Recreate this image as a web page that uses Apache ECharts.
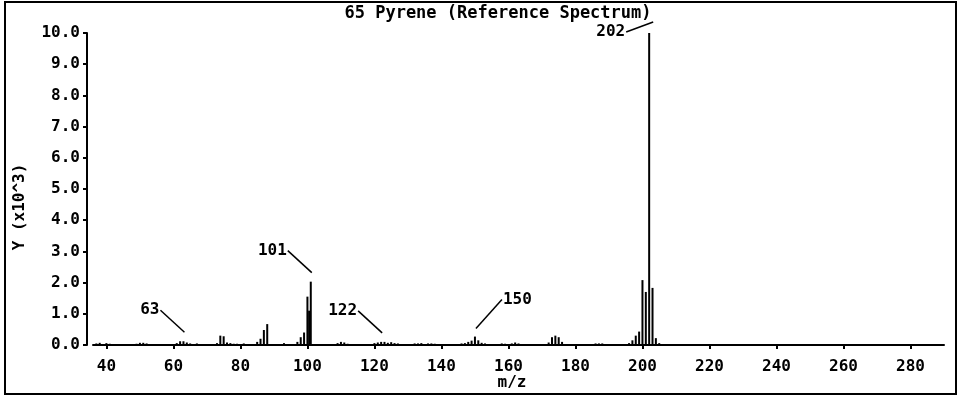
<!DOCTYPE html>
<html>
<head>
<meta charset="utf-8">
<script src="https://cdn.jsdelivr.net/npm/echarts@6/dist/echarts.min.js"></script>
<style>
html,body{margin:0;padding:0;background:#fff;}
#chart{width:961px;height:397px;}
</style>
</head>
<body>
<div id="chart"></div>
<script>
// ---- data ----
const titleText = '65 Pyrene (Reference Spectrum)';
const xAxisName = 'm/z';
const yAxisName = 'Y (x10^3)';
const mzValues = [37,38,40,41, 49,50,51,52, 61,62,63,64,65,67, 73,74,75,76,77,78,79,81, 85,86,87,88, 93, 97,98,99,100,100.5,101,
  109,110,111,112, 120,121,122,123,124,125,126,127, 132,133,134,136,137,138,
  146,147,148,149,150,151,152,153, 158,159,161,162,163, 172,173,174,175,176, 186,187,188,
  196,197,198,199,200,201,202,203,204,205];
const intensities = [0.05,0.07,0.06,0.04, 0.04,0.07,0.07,0.05, 0.06,0.12,0.12,0.08,0.05,0.05, 0.06,0.3,0.28,0.08,0.06,0.04,0.04,0.05, 0.1,0.2,0.48,0.67, 0.06, 0.1,0.25,0.4,1.55,1.1,2.03,
  0.06,0.1,0.08,0.04, 0.06,0.08,0.1,0.1,0.07,0.09,0.06,0.05, 0.05,0.05,0.06,0.05,0.05,0.04,
  0.05,0.06,0.1,0.14,0.27,0.15,0.07,0.05, 0.05,0.04,0.05,0.08,0.05, 0.08,0.25,0.3,0.25,0.1, 0.05,0.05,0.05,
  0.06,0.15,0.3,0.43,2.08,1.7,10.0,1.83,0.22,0.06];
const annotatedPeaks = [63, 101, 122, 150, 202];
const xTickValues = [40,60,80,100,120,140,160,180,200,220,240,260,280];
const yTickValues = [0,1,2,3,4,5,6,7,8,9,10];

// ---- chart ----
const FONT = '"DejaVu Sans Mono", "Liberation Mono", monospace';
const FONT_CSS = 'bold 16px ' + FONT;
const barData = mzValues.map((m, i) => [m, intensities[i]]);
const annotData = annotatedPeaks.map(m => [m, intensities[mzValues.indexOf(m)]]);

const chart = echarts.init(document.getElementById('chart'), null, {renderer: 'canvas'});
chart.setOption({
  animation: false,
  backgroundColor: '#fff',
  grid: {left: 93, right: 17, top: 33, bottom: 52, containLabel: false},
  xAxis: {
    type: 'value', min: 36, max: 290,
    offset: 6,
    axisLine: {show: true, lineStyle: {color: '#000', width: 2}},
    axisTick: {show: true, inside: false, length: 4, lineStyle: {color: '#000', width: 2}, customValues: xTickValues},
    axisLabel: {show: true, margin: 8, color: '#000', fontFamily: FONT, fontWeight: 'bold', fontSize: 16, customValues: xTickValues},
    splitLine: {show: false}
  },
  yAxis: {
    type: 'value', min: 0, max: 10,
    offset: 6,
    axisLine: {show: true, lineStyle: {color: '#000', width: 2}},
    axisTick: {show: true, inside: false, length: 4, lineStyle: {color: '#000', width: 2}, customValues: yTickValues},
    axisLabel: {show: true, margin: 7, color: '#000', fontFamily: FONT, fontWeight: 'bold', fontSize: 16, customValues: yTickValues,
      formatter: v => Number(v).toFixed(1)},
    splitLine: {show: false}
  },
  graphic: [
    {type: 'rect', shape: {x: 5, y: 2, width: 951, height: 392}, style: {fill: 'none', stroke: '#000', lineWidth: 2}, silent: true},
    {type: 'text', x: 498, y: 14, style: {text: titleText, font: 'bold 17px ' + FONT, fill: '#000', align: 'center', verticalAlign: 'middle'}},
    {type: 'text', x: 512, y: 383, style: {text: xAxisName, font: FONT_CSS, fill: '#000', align: 'center', verticalAlign: 'middle'}},
    {type: 'text', x: 20, y: 207, rotation: Math.PI / 2, style: {text: yAxisName, font: FONT_CSS, fill: '#000', align: 'center', verticalAlign: 'middle'}}
  ],
  series: [
    {
      type: 'bar',
      data: barData,
      barWidth: 2,
      itemStyle: {color: '#000'},
      silent: true
    },
    {
      type: 'custom',
      data: annotData,
      silent: true,
      renderItem: function (params, api) {
        const m = api.value(0), v = api.value(1);
        const top = api.coord([m, v]);
        let ex, ey, sx, sy, align;
        if (m === 202) {
          ex = top[0] + 4; ey = top[1] - 11;
          sx = ex - 27; sy = ey + 10; align = 'right';
        } else if (m === 150) {
          ex = top[0] + 1; ey = top[1] - 8;
          sx = ex + 26; sy = ey - 29; align = 'left';
        } else {
          ex = top[0] + 1; ey = top[1] - 9;
          sx = ex - 24; sy = ey - 22; align = 'right';
        }
        return {
          type: 'group',
          children: [
            {type: 'line', shape: {x1: sx, y1: sy, x2: ex, y2: ey}, style: {stroke: '#000', lineWidth: 1.5}},
            {type: 'text', style: {text: String(m), x: align === 'right' ? sx - 1 : sx + 1, y: sy,
              align: align, verticalAlign: 'middle', font: FONT_CSS, fill: '#000'}}
          ]
        };
      }
    }
  ]
});
</script>
</body>
</html>
